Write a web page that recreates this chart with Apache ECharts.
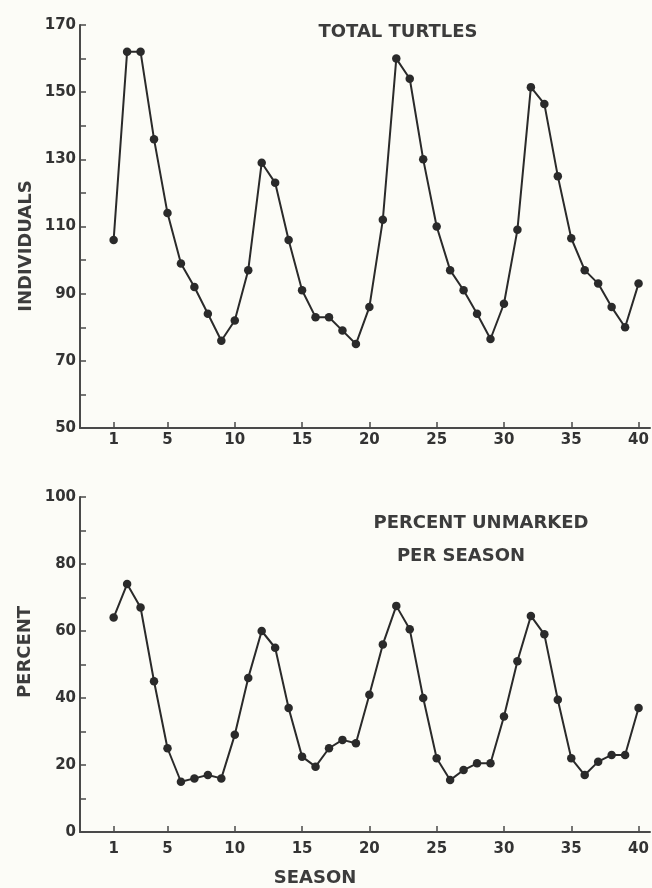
<!DOCTYPE html>
<html>
<head>
<meta charset="utf-8">
<script src="https://cdn.jsdelivr.net/npm/echarts@6/dist/echarts.min.js"></script>
<style>
  html, body { margin: 0; padding: 0; background: #fcfcf7; }
  #chart { width: 652px; height: 888px; }
</style>
</head>
<body>
<div id="chart"></div>
<script>
// seasons 1..40
var seasons = [];
for (var i = 1; i <= 40; i++) seasons.push(i);

// total turtles (individuals) per season
var totalTurtles = [106, 162, 162, 136, 114, 99, 92, 84, 76, 82,
                    97, 129, 123, 106, 91, 83, 83, 79, 75, 86,
                    112, 160, 154, 130, 110, 97, 91, 84, 76.5, 87,
                    109, 151.5, 146.5, 125, 106.5, 97, 93, 86, 80, 93];

// percent unmarked per season
var percentUnmarked = [64, 74, 67, 45, 25, 15, 16, 17, 16, 29,
                       46, 60, 55, 37, 22.5, 19.5, 25, 27.5, 26.5, 41,
                       56, 67.5, 60.5, 40, 22, 15.5, 18.5, 20.5, 20.5, 34.5,
                       51, 64.5, 59, 39.5, 22, 17, 21, 23, 23, 37];

var seasonTicks = [1, 5, 10, 15, 20, 25, 30, 35, 40];
var topTicks = [50, 60, 70, 80, 90, 100, 110, 120, 130, 140, 150, 160, 170];
var topLabels = [50, 70, 90, 110, 130, 150, 170];
var botTicks = [0, 10, 20, 30, 40, 50, 60, 70, 80, 90, 100];
var botLabels = [0, 20, 40, 60, 80, 100];

function pairs(vals) {
  return vals.map(function (v, i) { return [seasons[i], v]; });
}

var ink = '#2a2a2a';
var axisInk = '#4a4a4a';
var tickFont = { color: '#333', fontSize: 15, fontWeight: 'bold', fontFamily: 'DejaVu Sans' };

function xAxisFor(idx, margin) {
  return {
    type: 'value', gridIndex: idx, min: -1.5, max: 40.85,
    axisLine: { show: true, onZero: false, lineStyle: { color: axisInk, width: 2 } },
    axisTick: { show: true, inside: true, length: 6, customValues: seasonTicks, lineStyle: { color: axisInk, width: 1.5 } },
    axisLabel: Object.assign({ customValues: seasonTicks, margin: margin }, tickFont),
    splitLine: { show: false }
  };
}

function yAxisFor(idx, min, max, ticks, labels) {
  return {
    type: 'value', gridIndex: idx, min: min, max: max,
    axisLine: { show: true, onZero: false, lineStyle: { color: axisInk, width: 2 } },
    axisTick: { show: true, inside: true, length: 6, customValues: ticks, lineStyle: { color: axisInk, width: 1.5 } },
    axisLabel: Object.assign({ customValues: labels, margin: 4 }, tickFont),
    splitLine: { show: false }
  };
}

var nameFont = 'bold 18px "DejaVu Sans"';
var nameInk = '#3c3c3c';

var chart = echarts.init(document.getElementById('chart'));
chart.setOption({
  backgroundColor: '#fcfcf7',
  animation: false,
  grid: [
    { left: 80, top: 25, width: 570, height: 403 },
    { left: 80, top: 497, width: 570, height: 335 }
  ],
  xAxis: [xAxisFor(0, 5), xAxisFor(1, 10)],
  yAxis: [
    yAxisFor(0, 50, 170, topTicks, topLabels),
    yAxisFor(1, 0, 100, botTicks, botLabels)
  ],
  graphic: [
    { type: 'text', x: 398, y: 32, style: { text: 'TOTAL TURTLES', font: nameFont, fill: nameInk, textAlign: 'center', textVerticalAlign: 'middle' } },
    { type: 'text', x: 481, y: 523, style: { text: 'PERCENT UNMARKED', font: nameFont, fill: nameInk, textAlign: 'center', textVerticalAlign: 'middle' } },
    { type: 'text', x: 461, y: 556, style: { text: 'PER SEASON', font: nameFont, fill: nameInk, textAlign: 'center', textVerticalAlign: 'middle' } },
    { type: 'text', x: 26, y: 246, rotation: Math.PI / 2, style: { text: 'INDIVIDUALS', font: nameFont, fill: nameInk, textAlign: 'center', textVerticalAlign: 'middle' } },
    { type: 'text', x: 25, y: 652, rotation: Math.PI / 2, style: { text: 'PERCENT', font: nameFont, fill: nameInk, textAlign: 'center', textVerticalAlign: 'middle' } },
    { type: 'text', x: 315, y: 878, style: { text: 'SEASON', font: nameFont, fill: nameInk, textAlign: 'center', textVerticalAlign: 'middle' } }
  ],
  series: [
    {
      type: 'line', xAxisIndex: 0, yAxisIndex: 0,
      data: pairs(totalTurtles),
      symbol: 'circle', symbolSize: 8.5,
      lineStyle: { color: ink, width: 2 },
      itemStyle: { color: ink }
    },
    {
      type: 'line', xAxisIndex: 1, yAxisIndex: 1,
      data: pairs(percentUnmarked),
      symbol: 'circle', symbolSize: 8.5,
      lineStyle: { color: ink, width: 2 },
      itemStyle: { color: ink }
    }
  ]
});
</script>
</body>
</html>
